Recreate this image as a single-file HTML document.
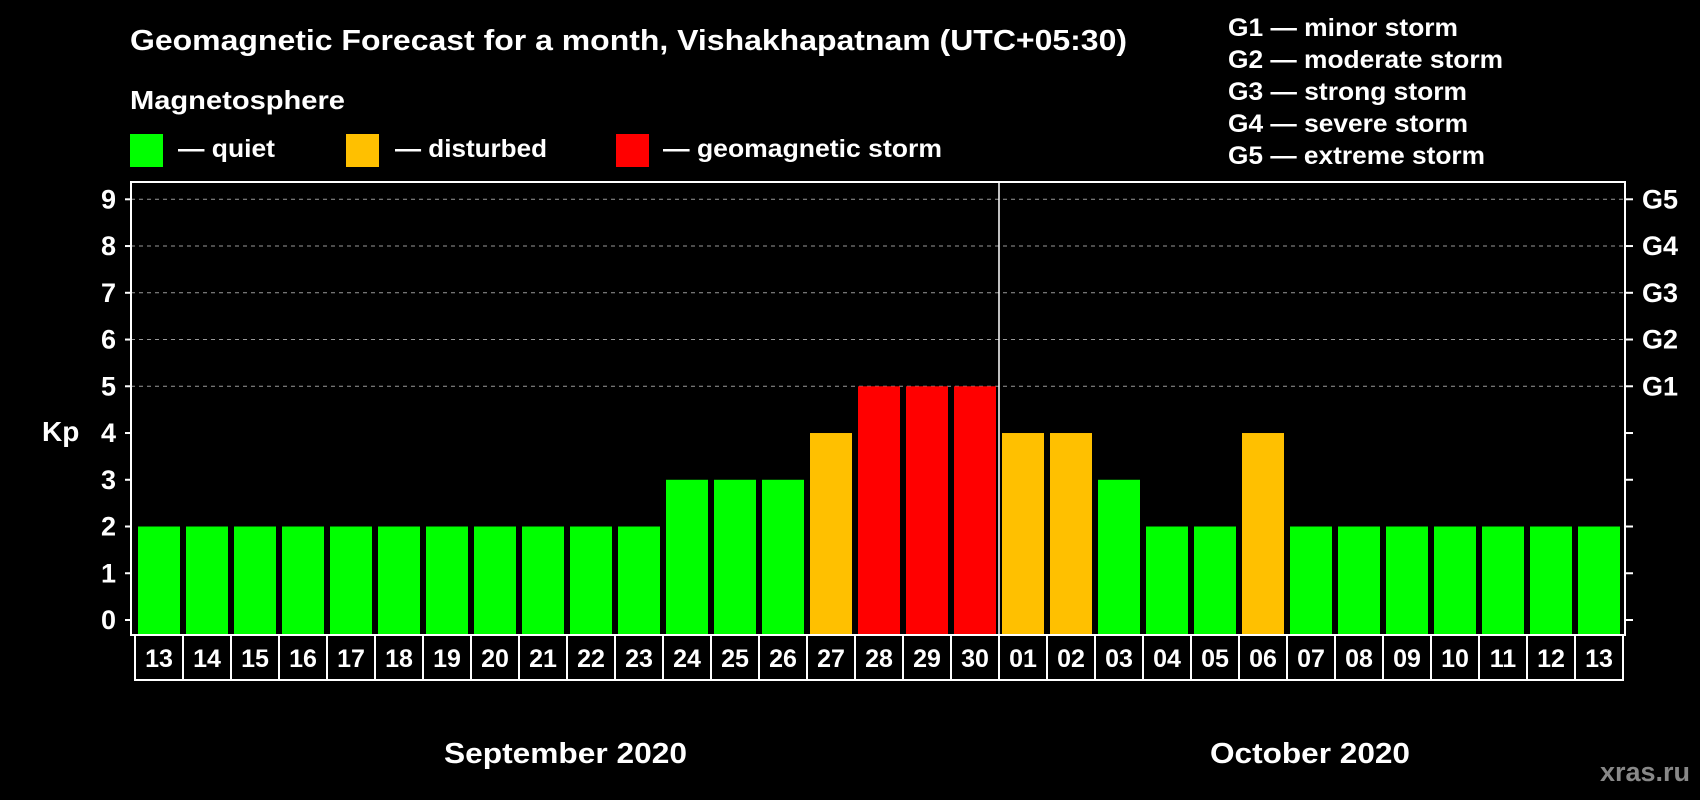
<!DOCTYPE html>
<html><head><meta charset="utf-8"><style>
html,body{margin:0;padding:0;background:#000;}
svg{display:block;font-family:"Liberation Sans",Arial,sans-serif;font-weight:bold;}
</style></head><body>
<svg id="chart" width="1700" height="800" viewBox="0 0 1700 800">
<rect width="1700" height="800" fill="#000"/>
<text x="130" y="50" fill="#fff" font-size="29" textLength="997" lengthAdjust="spacingAndGlyphs">Geomagnetic Forecast for a month, Vishakhapatnam (UTC+05:30)</text>
<text x="130" y="109" fill="#fff" font-size="26" textLength="215" lengthAdjust="spacingAndGlyphs">Magnetosphere</text>
<g><rect x="130" y="134" width="33" height="33" fill="#00ff00"/><text x="178" y="157" fill="#fff" font-size="25" textLength="97" lengthAdjust="spacingAndGlyphs">— quiet</text></g>
<g><rect x="346" y="134" width="33" height="33" fill="#ffc000"/><text x="395" y="157" fill="#fff" font-size="25" textLength="152" lengthAdjust="spacingAndGlyphs">— disturbed</text></g>
<g><rect x="616" y="134" width="33" height="33" fill="#ff0000"/><text x="663" y="157" fill="#fff" font-size="25" textLength="279" lengthAdjust="spacingAndGlyphs">— geomagnetic storm</text></g>
<g fill="#fff" font-size="25">
<text x="1228" y="36" textLength="230" lengthAdjust="spacingAndGlyphs">G1 — minor storm</text>
<text x="1228" y="68" textLength="275" lengthAdjust="spacingAndGlyphs">G2 — moderate storm</text>
<text x="1228" y="100" textLength="239" lengthAdjust="spacingAndGlyphs">G3 — strong storm</text>
<text x="1228" y="132" textLength="240" lengthAdjust="spacingAndGlyphs">G4 — severe storm</text>
<text x="1228" y="164" textLength="257" lengthAdjust="spacingAndGlyphs">G5 — extreme storm</text>
</g>
<text x="42" y="441" fill="#fff" font-size="28">Kp</text>
<g id="grid"></g><g id="bars"></g><g id="axes"></g>
<text x="444" y="763" fill="#fff" font-size="29" textLength="243" lengthAdjust="spacingAndGlyphs">September 2020</text>
<text x="1210" y="763" fill="#fff" font-size="29" textLength="200" lengthAdjust="spacingAndGlyphs">October 2020</text>
<text x="1690" y="781" fill="#888" font-size="27" text-anchor="end">xras.ru</text>
</svg>
<script>
const days = ["13","14","15","16","17","18","19","20","21","22","23","24","25","26","27","28","29","30","01","02","03","04","05","06","07","08","09","10","11","12","13"];
const kp = [2,2,2,2,2,2,2,2,2,2,2,3,3,3,4,5,5,5,4,4,3,2,2,4,2,2,2,2,2,2,2];
const yTicks = [0,1,2,3,4,5,6,7,8,9];
const gLabels = ["G1","G2","G3","G4","G5"];
const monthSplitIndex = 18;

const NS="http://www.w3.org/2000/svg";
const L=131,R=1625,T=182,B=635,Y0=620,UNIT=(620-199.3)/9,X0=135,STEP=48;
const y=v=>Y0-v*UNIT;
const x=i=>X0+i*STEP;
function mk(tag,attrs,parent){const e=document.createElementNS(NS,tag);for(const k in attrs)e.setAttribute(k,attrs[k]);parent.appendChild(e);return e;}
const grid=document.getElementById('grid'),bars=document.getElementById('bars'),axes=document.getElementById('axes');
[5,6,7,8,9].forEach(v=>{
  const l=mk('line',{x1:L,x2:R,y1:y(v),y2:y(v),stroke:'#999','stroke-width':1,'stroke-dasharray':'4,4'},grid);
  
  
});
kp.forEach((v,i)=>{
  const c=v>=5?'#ff0000':(v>=4?'#ffc000':'#00ff00');
  const r=mk('rect',{x:x(i)+3,y:y(v),width:42,height:B-y(v),fill:c},bars);
  
  
});
const frame=mk('rect',{x:L,y:T,width:R-L,height:B-T,fill:'none',stroke:'#fff','stroke-width':2},axes);


const sep=mk('line',{x1:x(monthSplitIndex),x2:x(monthSplitIndex),y1:T,y2:B,stroke:'#fff','stroke-width':1.5},axes);


yTicks.forEach(v=>{
  mk('line',{x1:L-6,x2:L,y1:y(v),y2:y(v),stroke:'#fff','stroke-width':2},axes);
  mk('line',{x1:R,x2:R+8,y1:y(v),y2:y(v),stroke:'#fff','stroke-width':2},axes);
  const t=mk('text',{x:116,y:y(v)+9,fill:'#fff','font-size':27,'text-anchor':'end'},axes);
  t.textContent=v;
  
  
});
gLabels.forEach((g,i)=>{
  const t=mk('text',{x:1642,y:y(5+i)+9,fill:'#fff','font-size':27},axes);
  t.textContent=g;
  
  
});
days.forEach((d,i)=>{
  const b=mk('rect',{x:x(i),y:B,width:STEP,height:45,fill:'none',stroke:'#fff','stroke-width':2},axes);
  
  
  const t=mk('text',{x:x(i)+STEP/2,y:667,fill:'#fff','font-size':25,'text-anchor':'middle'},axes);
  t.textContent=d;
  
  
});
</script>
</body></html>
